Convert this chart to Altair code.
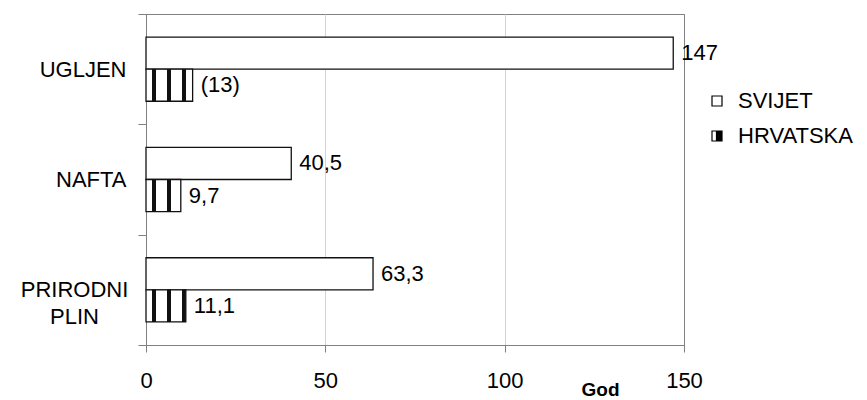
import altair as alt
import pandas as pd

FONT = "Liberation Sans, Arial, sans-serif"

categories = ["UGLJEN", "NAFTA", "PRIRODNI PLIN"]
series = ["SVIJET", "HRVATSKA"]
svijet = [147, 40.5, 63.3]
hrvatska = [13, 9.7, 11.1]
svijet_labels = ["147", "40,5", "63,3"]
hrvatska_labels = ["(13)", "9,7", "11,1"]
x_ticks = [0, 50, 100, 150]

rows = []
for i, c in enumerate(categories):
    rows.append({"cat": c, "series": "SVIJET", "value": svijet[i], "label": svijet_labels[i]})
    rows.append({"cat": c, "series": "HRVATSKA", "value": hrvatska[i], "label": hrvatska_labels[i]})
df = pd.DataFrame(rows)

W, H = 538, 331
PPU = W / 150.0
FS = 22


def stripes(v):
    """Vertical stripe pattern (fixed pixel pitch) as a linear gradient."""
    wpx = v * PPU
    stops = [{"offset": 0, "color": "white"}]
    for c in [8, 23, 38, 53, 68]:
        a = (c - 2) / wpx
        b = (c + 2) / wpx
        if a >= 1:
            break
        b = min(b, 1)
        stops += [
            {"offset": a, "color": "white"},
            {"offset": a, "color": "#111111"},
            {"offset": b, "color": "#111111"},
            {"offset": b, "color": "white"},
        ]
    stops.append({"offset": 1, "color": "white"})
    return {"gradient": "linear", "x1": 0, "y1": 0, "x2": 1, "y2": 0, "stops": stops}


fill_def = {
    "condition": [
        {"test": f"datum.series === 'HRVATSKA' && datum.cat === '{c}'", "value": stripes(v)}
        for c, v in zip(categories, hrvatska)
    ],
    "value": "white",
}

label_expr = "datum.label == 'PRIRODNI PLIN' ? ['PRIRODNI', 'PLIN'] : datum.label"
is_multi = "datum.label == 'PRIRODNI PLIN'"

x_enc = alt.X(
    "value:Q",
    scale=alt.Scale(domain=[0, 150], nice=False),
    axis=alt.Axis(
        values=x_ticks,
        title="God",
        titleFont=FONT,
        titleFontSize=19,
        titleFontWeight="bold",
        titleColor="black",
        titleX=454,
        titleY=50,
        titleAlign="center",
        titleBaseline="alphabetic",
        labelFont=FONT,
        labelFontSize=FS,
        labelColor="black",
        labelBaseline="alphabetic",
        labelPadding=35,
        labelFlush=False,
        tickSize=7,
        tickColor="#808080",
        domainColor="#808080",
        gridColor={
            "condition": {"test": "datum.value === 0 || datum.value === 150", "value": "#808080"},
            "value": "#d4d4d4",
        },
    ),
)

y_enc = alt.Y(
    "cat:N",
    sort=categories,
    scale=alt.Scale(paddingInner=0, paddingOuter=0),
    axis=alt.Axis(
        title=None,
        grid=False,
        tickBand="extent",
        tickSize=8,
        tickColor="#808080",
        domainColor="#808080",
        labelPadding={"condition": {"test": is_multi, "value": 64}, "value": 12},
        labelAlign={"condition": {"test": is_multi, "value": "center"}, "value": "right"},
        labelFont=FONT,
        labelFontSize=FS,
        labelColor="black",
        labelLineHeight=27,
        labelLimit=200,
        labelExpr=label_expr,
    ),
)

yoff_enc = alt.YOffset(
    "series:N", sort=series, scale=alt.Scale(paddingInner=0, paddingOuter=0.72)
)

base = alt.Chart(df)

bars = base.mark_bar(stroke="#111111", strokeWidth=1.3).encode(
    x=x_enc, y=y_enc, yOffset=yoff_enc, fill=fill_def
)

texts = base.mark_text(
    align="left", baseline="middle", dx=8, font=FONT, fontSize=FS, color="black"
).encode(x=x_enc, y=y_enc, yOffset=yoff_enc, text="label:N")

leg = alt.Legend(
    title=None,
    orient="none",
    legendX=560,
    legendY=76,
    padding=0,
    symbolSize=100,
    symbolStrokeColor="black",
    symbolStrokeWidth=1.2,
    symbolOpacity=1,
    labelFont=FONT,
    labelFontSize=FS,
    labelColor="black",
    labelOffset=10,
    rowPadding=13,
)

SQ = "M-1,-1H1V1H-1Z"
HALF = "M-1,-1H1V1H-1Z M-1,-1V1H-0.1V-1Z"

legend_layer = base.mark_point(filled=True, opacity=0, strokeWidth=1.2).encode(
    x=x_enc,
    y=y_enc,
    yOffset=yoff_enc,
    fill=alt.Fill("series:N", scale=alt.Scale(domain=series, range=["white", "black"]), legend=leg),
    shape=alt.Shape("series:N", scale=alt.Scale(domain=series, range=[SQ, HALF]), legend=leg),
    stroke=alt.Stroke("series:N", scale=alt.Scale(domain=series, range=["black", "black"]), legend=leg),
)

chart = (
    alt.layer(bars, texts, legend_layer)
    .properties(
        width=W,
        height=H,
        autosize=alt.AutoSizeParams(type="none"),
        padding={"left": 138, "top": 6, "right": 175, "bottom": 54},
        background="white",
    )
    .configure(font=FONT)
    .configure_view(stroke="#808080", strokeWidth=1)
)

chart.save("out.html", embed_options={"renderer": "svg", "actions": False})
